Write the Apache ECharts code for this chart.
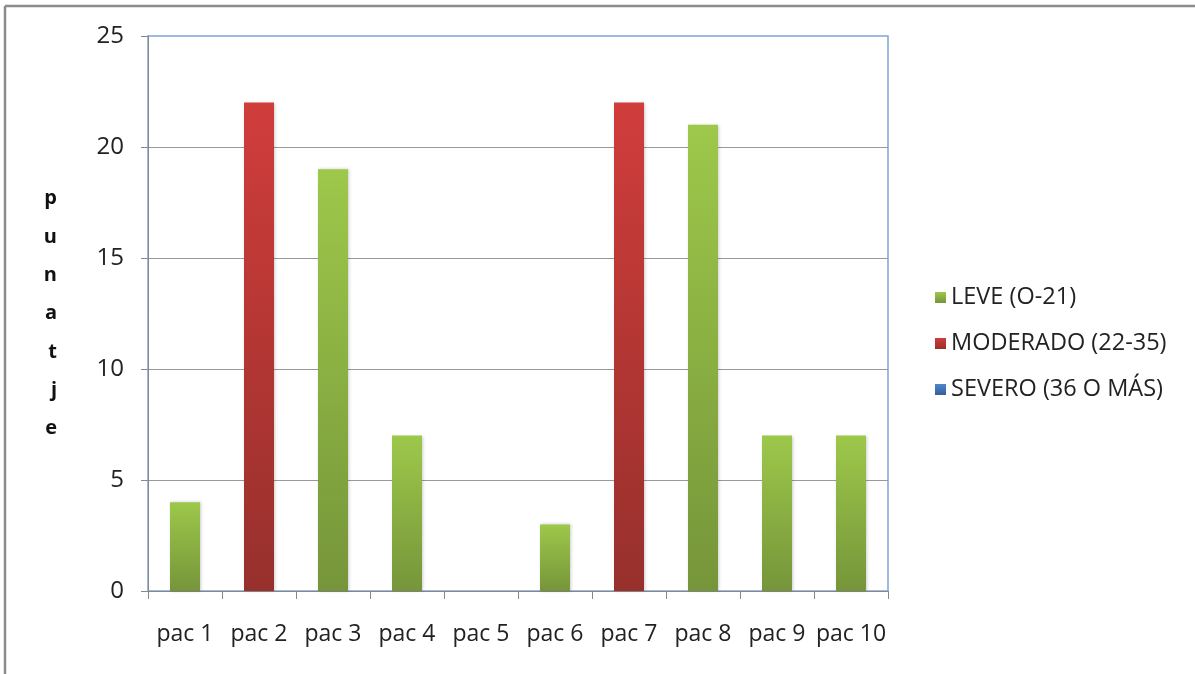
<!DOCTYPE html>
<html><head><meta charset="utf-8">
<script src="https://cdn.jsdelivr.net/npm/echarts@6/dist/echarts.min.js"></script>
<style>html,body{margin:0;padding:0;background:#fff}#c{width:1195px;height:674px}</style>
</head><body><div id="c"></div>
<script>
const categories = ['pac 1','pac 2','pac 3','pac 4','pac 5','pac 6','pac 7','pac 8','pac 9','pac 10'];
const leve = [4, '-', 19, 7, '-', 3, '-', 21, 7, 7];
const moderado = ['-', 22, '-', '-', '-', '-', 22, '-', '-', '-'];
const severo = ['-', '-', '-', '-', '-', '-', '-', '-', '-', '-'];
const seriesNames = ['LEVE (O-21)', 'MODERADO (22-35)', 'SEVERO (36 O MÁS)'];
const yTitle = 'punatje';

const FONT = 'Open Sans';
function grad(top, bottom) {
  return new echarts.graphic.LinearGradient(0, 0, 0, 1, [{offset: 0, color: top}, {offset: 1, color: bottom}]);
}
const chart = echarts.init(document.getElementById('c'), null, {renderer: 'canvas'});
function bar(name, data, top, bottom) {
  return {
    name, type: 'bar', data, stack: 'all', barWidth: 30,
    itemStyle: {color: grad(top, bottom), shadowColor: 'rgba(0,0,0,0.2)', shadowBlur: 3, shadowOffsetX: 1},
    emphasis: {disabled: true}
  };
}
chart.setOption({
  animation: false,
  textStyle: {fontFamily: FONT},
  grid: {left: 148, right: 307, top: 36, bottom: 83, show: true, borderColor: '#7FA5D5', borderWidth: 1.5},
  legend: {
    orient: 'vertical', left: 930, top: 280, itemGap: 21, itemWidth: 11, itemHeight: 11,
    icon: 'rect',
    textStyle: {fontFamily: FONT, fontSize: 23.5, lineHeight: 25, color: '#222'},
    data: seriesNames
  },
  xAxis: {
    type: 'category', data: categories,
    axisLine: {lineStyle: {color: '#888', width: 1}},
    axisTick: {show: true, length: 8, lineStyle: {color: '#888'}},
    axisLabel: {interval: 0, fontFamily: FONT, fontSize: 23, color: '#222', margin: 32},
    splitLine: {show: false}
  },
  yAxis: {
    type: 'value', min: 0, max: 25, interval: 5,
    name: yTitle.split('').join('\n'),
    nameLocation: 'middle', nameRotate: 0, nameGap: 91,
    nameTextStyle: {fontFamily: FONT, fontSize: 20, fontWeight: 'bold', color: '#111', lineHeight: 38.3, padding: [8, 0, 0, 0]},
    axisLine: {show: true, lineStyle: {color: '#888', width: 1}},
    axisTick: {show: true, length: 7, lineStyle: {color: '#888'}},
    axisLabel: {fontFamily: FONT, fontSize: 24, color: '#222', margin: 24},
    splitLine: {showMaxLine: false, lineStyle: {color: '#999', width: 1}}
  },
  series: [
    bar(seriesNames[0], leve, '#9DC84A', '#76953A'),
    bar(seriesNames[1], moderado, '#D03D3B', '#97302C'),
    bar(seriesNames[2], severo, '#4F86C9', '#355F9A')
  ],
  graphic: [
    {type: 'line', shape: {x1: 5, y1: 6, x2: 1195, y2: 6}, style: {stroke: '#8C8C8C', lineWidth: 2.5}},
    {type: 'line', shape: {x1: 5, y1: 6, x2: 5, y2: 674}, style: {stroke: '#8C8C8C', lineWidth: 2.5}}
  ]
});
</script></body></html>
